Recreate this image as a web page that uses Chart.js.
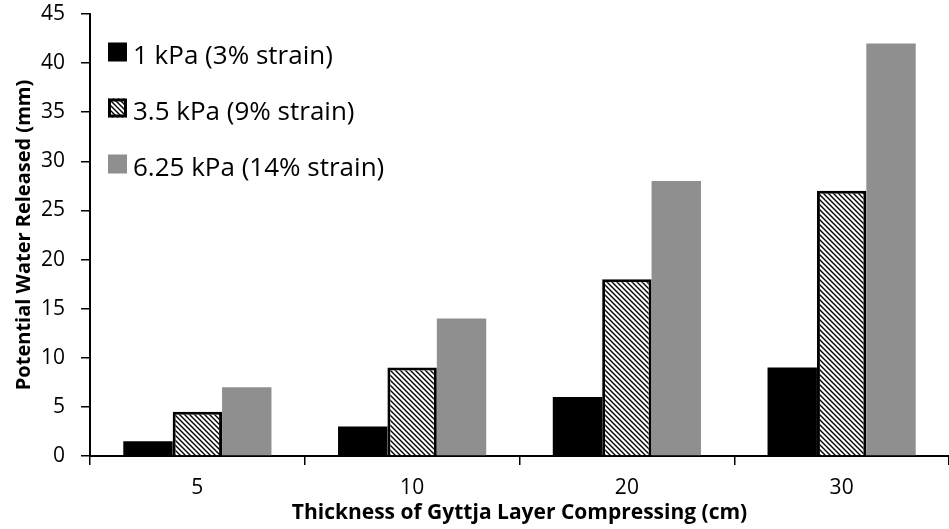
<!DOCTYPE html>
<html>
<head>
<meta charset="utf-8">
<script src="https://cdn.jsdelivr.net/npm/chart.js@4.4.0/dist/chart.umd.min.js"></script>
<style>
  html, body { margin: 0; padding: 0; background: #fff; }
  #wrap { width: 949px; height: 529px; }
</style>
</head>
<body>
<div id="wrap"><canvas id="chart" width="949" height="529"></canvas></div>
<script>
// data
const categories = ['5', '10', '20', '30'];
const seriesLabels = ['1 kPa (3% strain)', '3.5 kPa (9% strain)', '6.25 kPa (14% strain)'];
const water1kPa = [1.5, 3, 6, 9];
const water35kPa = [4.5, 9, 18, 27];
const water625kPa = [7, 14, 28, 42];
const yMin = 0, yMax = 45, yStep = 5;

const FONT = "'Open Sans', 'DejaVu Sans', sans-serif";

// diagonal hatch fill for the middle series
function makeHatch() {
  let n = 5;
  let c = document.createElement('canvas');
  c.width = n; c.height = n;
  let g = c.getContext('2d');
  g.fillStyle = '#fff';
  g.fillRect(0, 0, n, n);
  g.strokeStyle = '#000';
  g.lineWidth = 1.4;
  g.beginPath();
  g.moveTo(-1, -1); g.lineTo(n + 1, n + 1);
  g.moveTo(-1, n - 1); g.lineTo(1, n + 1);
  g.moveTo(n - 1, -1); g.lineTo(n + 1, 1);
  g.stroke();
  return g.createPattern(c, 'repeat');
}
const hatch = makeHatch();

// legend drawn inside the plot, top left
const insideLegend = {
  id: 'insideLegend',
  afterDraw(chart) {
    let ctx = chart.ctx;
    let x = 108, y0 = 52, gap = 56, box = 19;
    ctx.save();
    ctx.font = '26px ' + FONT;
    ctx.textBaseline = 'alphabetic';
    ctx.textAlign = 'left';
    chart.data.datasets.forEach(function (ds, i) {
      let y = y0 + i * gap;
      ctx.fillStyle = ds.backgroundColor;
      ctx.fillRect(x, y - box / 2, box, box);
      if (ds.borderWidth) {
        ctx.strokeStyle = '#000';
        ctx.lineWidth = 3;
        ctx.strokeRect(x + 1.5, y - box / 2 + 1.5, box - 3, box - 3);
      }
      ctx.fillStyle = '#000';
      ctx.fillText(ds.label, 133, y + 12);
    });
    ctx.restore();
  }
};

new Chart(document.getElementById('chart'), {
  type: 'bar',
  data: {
    labels: categories,
    datasets: [
      { label: seriesLabels[0], data: water1kPa, backgroundColor: '#000000', borderWidth: 0 },
      { label: seriesLabels[1], data: water35kPa, backgroundColor: hatch, borderColor: '#000000', borderWidth: 3 },
      { label: seriesLabels[2], data: water625kPa, backgroundColor: '#8f8f8f', borderWidth: 0 }
    ]
  },
  options: {
    responsive: false,
    animation: false,
    devicePixelRatio: 1,
    layout: { padding: { top: 14, right: 0, left: 0, bottom: 0 } },
    datasets: { bar: { categoryPercentage: 0.69, barPercentage: 1.0 } },
    plugins: { legend: { display: false }, tooltip: { enabled: false } },
    scales: {
      x: {
        grid: { offset: true, drawOnChartArea: false, drawTicks: true, tickLength: 9, color: '#000', lineWidth: 1.5 },
        border: { display: true, color: '#000', width: 2 },
        ticks: { color: '#000', font: { family: FONT, size: 21 }, padding: 10 },
        title: { display: true, text: 'Thickness of Gyttja Layer Compressing (cm)', color: '#000',
                 font: { family: FONT, size: 21, weight: 'bold' }, padding: { top: 0, bottom: 3 } },
        afterFit: function (s) { s.height = 73; }
      },
      y: {
        min: yMin, max: yMax,
        grid: { drawOnChartArea: false, drawTicks: true, tickLength: 9, color: '#000', lineWidth: 1.5 },
        border: { display: true, color: '#000', width: 2 },
        ticks: { stepSize: yStep, color: '#000', font: { family: FONT, size: 21 }, padding: 16 },
        title: { display: true, text: 'Potential Water Released (mm)', color: '#000',
                 font: { family: FONT, size: 20, weight: 'bold' }, padding: { top: 12, bottom: 0 } },
        afterFit: function (s) {
          s.width = 90;
          // keep the plot top at the layout padding
          s.paddingTop = 0;
          s.paddingBottom = 0;
        }
      }
    }
  },
  plugins: [insideLegend]
});
</script>
</body>
</html>
